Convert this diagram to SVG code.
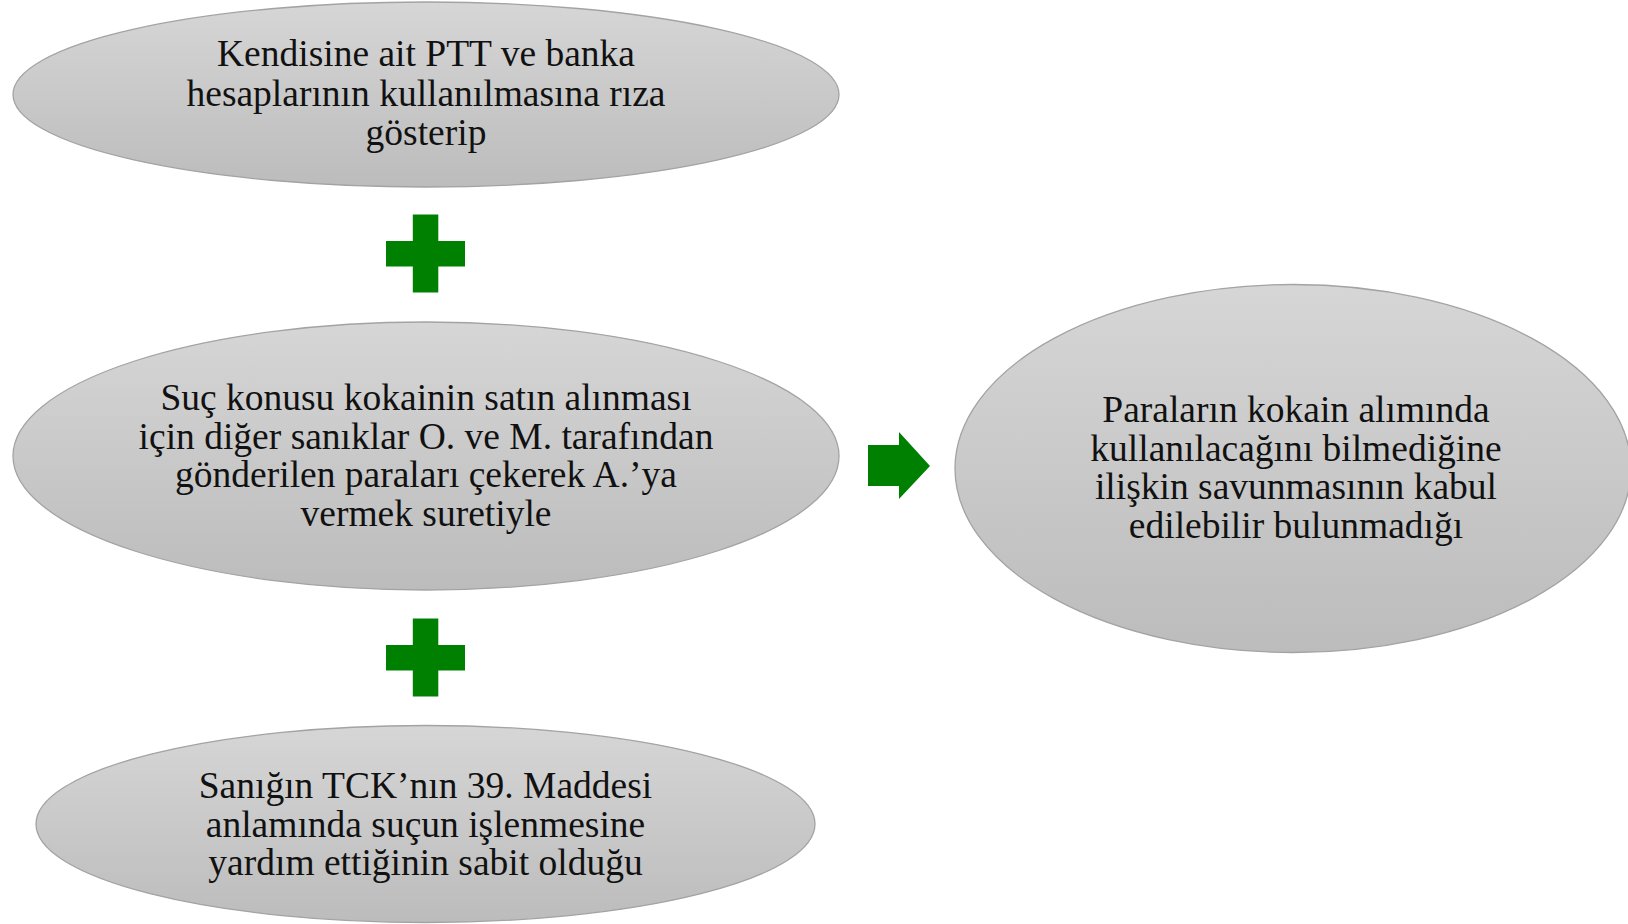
<svg xmlns="http://www.w3.org/2000/svg" width="1628" height="924" viewBox="0 0 1628 924">
<defs>
<linearGradient id="g" x1="0" y1="0" x2="0" y2="1">
<stop offset="0" stop-color="#d6d6d6"/>
<stop offset="1" stop-color="#bcbcbc"/>
</linearGradient>
<style>
.node ellipse{fill:url(#g);stroke:#a3a3a3;stroke-width:1.3}
.node text{font-family:"Liberation Serif","Times New Roman",serif;font-size:37.5px;fill:#111;text-anchor:middle}
.sym{fill:#008000}
</style>
</defs>
<rect width="1628" height="924" fill="#ffffff"/>
<g id="node1" class="node">
<ellipse cx="426" cy="94.5" rx="413" ry="92.5"/>
<text x="426" y="66"><tspan x="426">Kendisine ait PTT ve banka</tspan><tspan x="426" dy="39.5">hesaplarının kullanılmasına rıza</tspan><tspan x="426" dy="39.5">gösterip</tspan></text>
</g>
<g id="node2" class="node">
<ellipse cx="426" cy="456" rx="413" ry="134"/>
<text x="426" y="410"><tspan x="426">Suç konusu kokainin satın alınması</tspan><tspan x="426" dy="38.7">için diğer sanıklar O. ve M. tarafından</tspan><tspan x="426" dy="38.7">gönderilen paraları çekerek A.’ya</tspan><tspan x="426" dy="38.7">vermek suretiyle</tspan></text>
</g>
<g id="node3" class="node">
<ellipse cx="425.5" cy="824" rx="389.5" ry="98.5"/>
<text x="425.5" y="798"><tspan x="425.5">Sanığın TCK’nın 39. Maddesi</tspan><tspan x="425.5" dy="38.5">anlamında suçun işlenmesine</tspan><tspan x="425.5" dy="38.5">yardım ettiğinin sabit olduğu</tspan></text>
</g>
<g id="node4" class="node">
<ellipse cx="1293" cy="468.5" rx="338" ry="184"/>
<text x="1296" y="422"><tspan x="1296">Paraların kokain alımında</tspan><tspan x="1296" dy="38.5">kullanılacağını bilmediğine</tspan><tspan x="1296" dy="38.5">ilişkin savunmasının kabul</tspan><tspan x="1296" dy="38.5">edilebilir bulunmadığı</tspan></text>
</g>
<g id="connectors">
<path class="sym" d="M412.8 214.5H438.3V241H465V266.5H438.3V292.5H412.8V266.5H386V241H412.8Z"/>
<path class="sym" d="M412.8 618.5H438.3V645H465V670.5H438.3V696.5H412.8V670.5H386V645H412.8Z"/>
<path class="sym" d="M868 445H899V432L930 466L899 499V486H868Z"/>
</g>
</svg>
